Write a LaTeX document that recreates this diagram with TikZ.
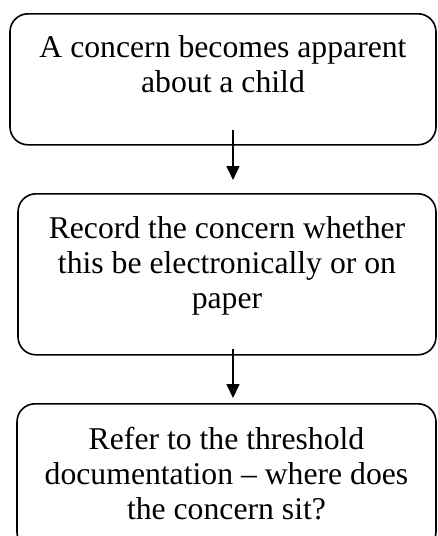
\documentclass[tikz,border=0pt]{standalone}
\usepackage{fontspec}
\setmainfont{Liberation Serif}
\usetikzlibrary{arrows.meta}
\tikzset{
  box/.style = {draw, rounded corners=18pt, line width=1.6pt, align=flush center,
                inner sep=0pt, anchor=north, text height=45pt,
                font=\fontsize{31.7pt}{35pt}\selectfont},
  ar/.style  = {-{Triangle[length=14pt, width=13pt]}, line width=1.6pt},
}
\begin{document}
\begin{tikzpicture}[x=1pt, y=1pt]
  \useasboundingbox (0,0) rectangle (437,-536);
  \clip (0,0) rectangle (437,-536);
  \node[box, text width=426pt, text height=44pt, text depth=87pt] (concern) at (223,-13)
    {A concern becomes apparent\\about a child};
  \node[box, text width=418pt, text depth=116pt] (record) at (227,-193)
    {Record the concern whether\\this be electronically or on\\paper};
  \node[box, text width=419pt, text height=46pt, text depth=100pt] (refer) at (226.5,-403)
    {Refer to the threshold\\documentation -- where does\\the concern sit?};
  \coordinate (spine) at (233,0);
  \foreach \a/\b/\s/\e in {concern/record/16/13, record/refer/7/5}{
    \draw[ar, shorten <=-\s pt, shorten >=\e pt] (\a.south -| spine) -- (\b.north -| spine);
  }
\end{tikzpicture}
\end{document}
